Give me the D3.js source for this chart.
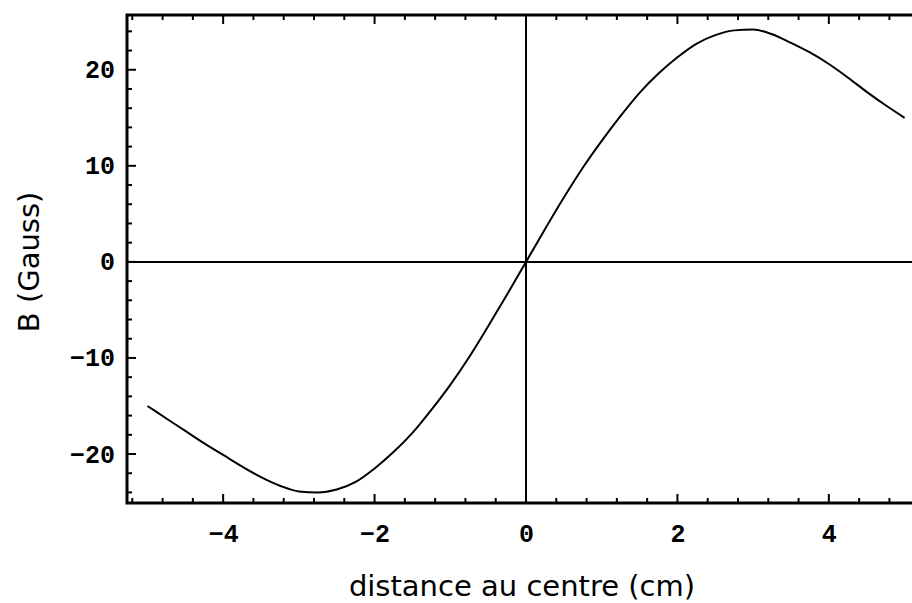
<!DOCTYPE html>
<html>
<head>
<meta charset="utf-8">
<script src="https://cdnjs.cloudflare.com/ajax/libs/d3/7.8.5/d3.min.js"></script>
<style>
  body { margin: 0; background: #fff; }
  svg { display: block; }
</style>
</head>
<body>
<svg></svg>
<script>
let distance = [
  -5, -4.75, -4.5, -4.25, -4, -3.75, -3.5, -3.25, -3, -2.75, -2.5, -2.25, -2, -1.75, -1.5, -1.25, -1, -0.75, -0.5, -0.25,
  0, 0.25, 0.5, 0.75, 1, 1.25, 1.5, 1.75, 2, 2.25, 2.5, 2.75, 3, 3.25, 3.5, 3.75, 4, 4.25, 4.5, 4.75, 5
];
let field = [
  -15.0, -16.3, -17.6, -18.9, -20.1, -21.3, -22.4, -23.3, -23.9, -24.0, -23.7, -22.9, -21.5, -19.8, -17.8, -15.4, -12.8, -9.9, -6.7, -3.4,
  0, 3.4, 6.7, 9.8, 12.6, 15.2, 17.6, 19.6, 21.3, 22.7, 23.6, 24.1, 24.2, 23.7, 22.8, 21.8, 20.6, 19.2, 17.7, 16.3, 15.0
];

let xMajorTicks = [-4, -2, 0, 2, 4];
let yMajorTicks = [-20, -10, 0, 10, 20];
let xLabel = "distance au centre (cm)";
let yLabel = "B (Gauss)";

let width = 912;
let height = 603;
let plotLeft = 127;
let plotRight = 925;
let plotTop = 15;
let plotBottom = 503;

let svg = d3.select("svg").attr("width", width).attr("height", height);

let xScale = d3.scaleLinear().domain([-5.27, 5.27]).range([plotLeft, plotRight]);
let yScale = d3.scaleLinear().domain([-25.1, 25.7]).range([plotBottom, plotTop]);

let values = distance.map((d, i) => [d, field[i]]);

let tickFont = "'Liberation Mono', 'DejaVu Sans Mono', monospace";
let labelFont = "'DejaVu Sans', Verdana, sans-serif";

let xMinor = d3.range(-5.2, 5.3, 0.4).map(v => Math.round(v * 10) / 10);
let yMinor = d3.range(-24, 25, 2);

// frame ticks, inward
let drawTicks = () => {
  let g = svg.append("g").attr("stroke", "#000").attr("stroke-width", 2);

  let xAll = xMinor.map(v => [v, xMajorTicks.includes(v) ? 9 : 5]);
  let yAll = yMinor.map(v => [v, yMajorTicks.includes(v) ? 9 : 5]);

  xAll.forEach(([v, len]) => {
    g.append("line")
      .attr("x1", xScale(v)).attr("x2", xScale(v))
      .attr("y1", plotBottom).attr("y2", plotBottom - len);
    g.append("line")
      .attr("x1", xScale(v)).attr("x2", xScale(v))
      .attr("y1", plotTop).attr("y2", plotTop + len);
  });

  yAll.forEach(([v, len]) => {
    g.append("line")
      .attr("x1", plotLeft).attr("x2", plotLeft + len)
      .attr("y1", yScale(v)).attr("y2", yScale(v));
  });
};

let drawAxes = () => {
  // zero lines
  svg.append("line")
    .attr("x1", plotLeft).attr("x2", plotRight)
    .attr("y1", yScale(0)).attr("y2", yScale(0))
    .attr("stroke", "#000").attr("stroke-width", 2);
  svg.append("line")
    .attr("x1", xScale(0)).attr("x2", xScale(0))
    .attr("y1", plotTop).attr("y2", plotBottom)
    .attr("stroke", "#000").attr("stroke-width", 2);

  // tick labels
  let xAxis = d3.axisBottom(xScale)
    .tickValues(xMajorTicks)
    .tickSize(0)
    .tickPadding(21)
    .tickFormat(d => d < 0 ? "\u2212" + Math.abs(d) : d);
  let gx = svg.append("g")
    .attr("transform", "translate(0," + plotBottom + ")")
    .call(xAxis);
  gx.select(".domain").remove();
  gx.selectAll("text")
    .attr("font-family", tickFont)
    .attr("font-weight", "bold")
    .attr("font-size", 25)
    .attr("fill", "#000");

  let yAxis = d3.axisLeft(yScale)
    .tickValues(yMajorTicks)
    .tickSize(0)
    .tickPadding(12)
    .tickFormat(d => d < 0 ? "\u2212" + Math.abs(d) : d);
  let gy = svg.append("g")
    .attr("transform", "translate(" + plotLeft + ",0)")
    .call(yAxis);
  gy.select(".domain").remove();
  gy.selectAll("text")
    .attr("font-family", tickFont)
    .attr("font-weight", "bold")
    .attr("font-size", 25)
    .attr("fill", "#000");
};

let drawFrame = () => {
  svg.append("rect")
    .attr("x", plotLeft).attr("y", plotTop)
    .attr("width", plotRight - plotLeft).attr("height", plotBottom - plotTop)
    .attr("fill", "none")
    .attr("stroke", "#000")
    .attr("stroke-width", 3);
};

let drawCurve = () => {
  let line = d3.line()
    .x(d => xScale(d[0]))
    .y(d => yScale(d[1]))
    .curve(d3.curveMonotoneX);

  svg.append("path")
    .datum(values)
    .attr("d", line)
    .attr("fill", "none")
    .attr("stroke", "#000")
    .attr("stroke-width", 2);
};

let drawLabels = () => {
  svg.append("text")
    .attr("x", (plotLeft + plotRight) / 2 - 4)
    .attr("y", 596)
    .attr("text-anchor", "middle")
    .attr("font-family", labelFont)
    .attr("font-size", 29)
    .attr("fill", "#000")
    .text(xLabel);

  svg.append("text")
    .attr("transform", "translate(39," + yScale(0) + ") rotate(-90)")
    .attr("text-anchor", "middle")
    .attr("font-family", labelFont)
    .attr("font-size", 29)
    .attr("fill", "#000")
    .text(yLabel);
};

drawAxes();
drawCurve();
drawTicks();
drawFrame();
drawLabels();
</script>
</body>
</html>
